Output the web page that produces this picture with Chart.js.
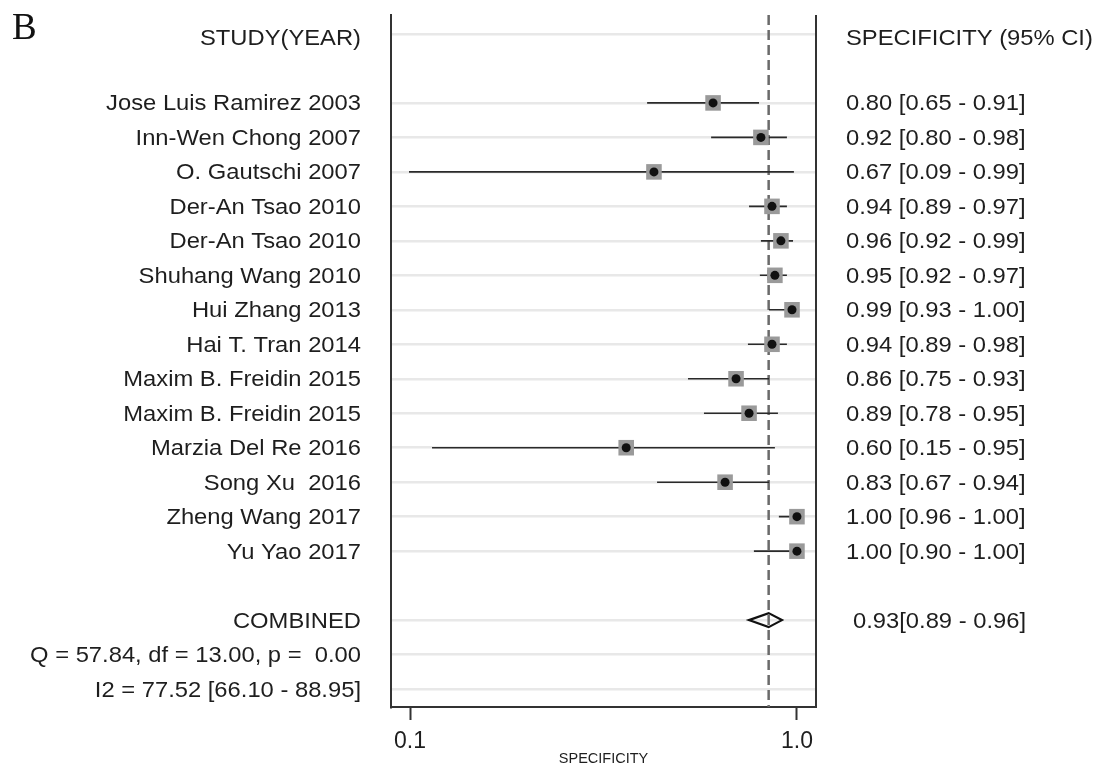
<!DOCTYPE html>
<html>
<head>
<meta charset="utf-8">
<script src="https://cdn.jsdelivr.net/npm/chart.js@4.4.1/dist/chart.umd.min.js"></script>
<style>
html, body { margin: 0; padding: 0; background: #fff; }
</style>
</head>
<body>
<canvas id="forest" width="1102" height="766"></canvas>
<script>
// study rows, top to bottom
var studies = [
    'Jose Luis Ramirez 2003', 'Inn-Wen Chong 2007', 'O. Gautschi 2007',
    'Der-An Tsao 2010', 'Der-An Tsao 2010', 'Shuhang Wang 2010',
    'Hui Zhang 2013', 'Hai T. Tran 2014', 'Maxim B. Freidin 2015',
    'Maxim B. Freidin 2015', 'Marzia Del Re 2016', 'Song Xu  2016',
    'Zheng Wang 2017', 'Yu Yao 2017'
];
var specText = [
    '0.80 [0.65 - 0.91]', '0.92 [0.80 - 0.98]', '0.67 [0.09 - 0.99]',
    '0.94 [0.89 - 0.97]', '0.96 [0.92 - 0.99]', '0.95 [0.92 - 0.97]',
    '0.99 [0.93 - 1.00]', '0.94 [0.89 - 0.98]', '0.86 [0.75 - 0.93]',
    '0.89 [0.78 - 0.95]', '0.60 [0.15 - 0.95]', '0.83 [0.67 - 0.94]',
    '1.00 [0.96 - 1.00]', '1.00 [0.90 - 1.00]'
];
// marker positions as plotted (log axis)
var pointEst = [0.607, 0.807, 0.427, 0.862, 0.909, 0.877, 0.971, 0.862, 0.696, 0.752, 0.362, 0.652, 1.0, 1.0];
var ciLow    = [0.410, 0.600, 0.0994, 0.752, 0.807, 0.802, 0.847, 0.747, 0.523, 0.575, 0.114, 0.435, 0.898, 0.774];
var ciHigh   = [0.798, 0.942, 0.982, 0.942, 0.977, 0.942, 0.988, 0.942, 0.847, 0.893, 0.877, 0.847, 1.0, 1.0];

var combinedEst = 0.845;
var combinedLow = 0.7515;
var combinedHigh = 0.9146;
var combinedText = '0.93[0.89 - 0.96]';
var statLines = ['Q = 57.84, df = 13.00, p =  0.00', 'I2 = 77.52 [66.10 - 88.95]'];

var xTicks = [0.1, 1];
var xTickLabels = ['0.1', '1.0'];

var HEADER_ROW = 0, FIRST_STUDY_ROW = 2, COMBINED_ROW = 17;
var gridRows = [HEADER_ROW];
studies.forEach(function (s, i) { gridRows.push(FIRST_STUDY_ROW + i); });
gridRows.push(COMBINED_ROW, COMBINED_ROW + 1, COMBINED_ROW + 2);

var SX = 1.08;
var FONT = '22px "Liberation Sans", Arial, sans-serif';

function stretchText(ctx, txt, x, y, align) {
    ctx.save();
    ctx.translate(x, y);
    ctx.scale(SX, 1);
    ctx.textAlign = align;
    ctx.fillText(txt, 0, 0);
    ctx.restore();
}

var whiskers = [];
studies.forEach(function (s, i) {
    var r = FIRST_STUDY_ROW + i;
    whiskers.push({x: ciLow[i], y: r}, {x: ciHigh[i], y: r}, {x: ciHigh[i], y: null});
});
var points = studies.map(function (s, i) { return {x: pointEst[i], y: FIRST_STUDY_ROW + i}; });

var forestPlugin = {
    id: 'forestExtras',
    beforeDatasetsDraw: function (chart) {
        var ctx = chart.ctx, area = chart.chartArea;
        var x = chart.scales.x.getPixelForValue(combinedEst);
        ctx.save();
        ctx.strokeStyle = '#6a6a6a';
        ctx.lineWidth = 2.5;
        ctx.setLineDash([10, 5]);
        ctx.beginPath();
        ctx.moveTo(x, area.top);
        ctx.lineTo(x, area.bottom);
        ctx.stroke();
        ctx.restore();
    },
    afterDatasetsDraw: function (chart) {
        var ctx = chart.ctx, xs = chart.scales.x, ys = chart.scales.y;
        var cy = ys.getPixelForValue(COMBINED_ROW);
        ctx.save();
        ctx.strokeStyle = '#111';
        ctx.lineWidth = 2.2;
        ctx.beginPath();
        ctx.moveTo(xs.getPixelForValue(combinedLow), cy);
        ctx.lineTo(xs.getPixelForValue(combinedEst), cy - 7);
        ctx.lineTo(xs.getPixelForValue(combinedHigh), cy);
        ctx.lineTo(xs.getPixelForValue(combinedEst), cy + 7);
        ctx.closePath();
        ctx.stroke();
        ctx.restore();
    },
    afterDraw: function (chart) {
        var ctx = chart.ctx, area = chart.chartArea, ys = chart.scales.y;
        ctx.save();
        // right frame line
        ctx.strokeStyle = '#333';
        ctx.lineWidth = 2;
        ctx.beginPath();
        ctx.moveTo(area.right, area.top);
        ctx.lineTo(area.right, area.bottom + 1);
        ctx.stroke();

        ctx.fillStyle = '#1e1e1e';
        ctx.font = FONT;
        ctx.textBaseline = 'middle';
        var leftX = 361, rightX = 846;
        var hy = ys.getPixelForValue(HEADER_ROW) + 5;
        stretchText(ctx, 'STUDY(YEAR)', leftX, hy, 'right');
        stretchText(ctx, 'SPECIFICITY (95% CI)', rightX, hy, 'left');
        studies.forEach(function (s, i) {
            var y = ys.getPixelForValue(FIRST_STUDY_ROW + i) + 1.5;
            stretchText(ctx, s, leftX, y, 'right');
            stretchText(ctx, specText[i], rightX, y, 'left');
        });
        var cy = ys.getPixelForValue(COMBINED_ROW) + 1.5;
        stretchText(ctx, 'COMBINED', leftX, cy, 'right');
        stretchText(ctx, combinedText, rightX + 7, cy, 'left');
        statLines.forEach(function (t, k) {
            stretchText(ctx, t, leftX, ys.getPixelForValue(COMBINED_ROW + 1 + k) + 1.5, 'right');
        });

        ctx.font = '37px "Liberation Serif", "Times New Roman", serif';
        ctx.textBaseline = 'alphabetic';
        ctx.textAlign = 'left';
        ctx.fillStyle = '#111';
        ctx.fillText('B', 12, 39);
        ctx.restore();
    }
};

new Chart(document.getElementById('forest'), {
    type: 'scatter',
    data: {
        datasets: [
            {
                label: 'dot',
                data: points,
                pointStyle: 'circle',
                pointRadius: 4.5,
                backgroundColor: '#111',
                borderWidth: 0,
                order: 0
            },
            {
                label: 'weight',
                data: points,
                pointStyle: 'rect',
                pointRadius: 11,
                backgroundColor: '#9a9a9a',
                borderWidth: 0,
                order: 1
            },
            {
                label: 'ci',
                data: whiskers,
                showLine: true,
                spanGaps: false,
                pointRadius: 0,
                borderColor: '#2a2a2a',
                borderWidth: 1.6,
                order: 2
            }
        ]
    },
    options: {
        responsive: false,
        devicePixelRatio: 1,
        animation: false,
        events: [],
        layout: {padding: {left: 391, right: 286, top: 15, bottom: 0}},
        plugins: {legend: {display: false}, tooltip: {enabled: false}},
        scales: {
            x: {
                type: 'logarithmic',
                min: 0.0893,
                max: 1.12,
                bounds: 'data',
                afterBuildTicks: function (scale) {
                    scale.ticks = xTicks.map(function (v) { return {value: v}; });
                },
                afterFit: function (scale) { scale.height = 59; },
                ticks: {
                    autoSkip: false,
                    maxRotation: 0,
                    padding: 8,
                    color: '#1e1e1e',
                    font: {family: '"Liberation Sans", Arial, sans-serif', size: 23},
                    callback: function (v) {
                        var k = xTicks.indexOf(v);
                        return k >= 0 ? xTickLabels[k] : '';
                    }
                },
                grid: {
                    drawOnChartArea: false,
                    drawTicks: true,
                    tickLength: 13,
                    tickColor: '#333',
                    tickWidth: 2
                },
                border: {display: true, color: '#333', width: 2},
                title: {
                    display: true,
                    text: 'SPECIFICITY',
                    color: '#1e1e1e',
                    padding: 0,
                    font: {family: '"Liberation Sans", Arial, sans-serif', size: 14.5, lineHeight: 1}
                }
            },
            y: {
                type: 'linear',
                reverse: true,
                min: -0.55,
                max: 19.52,
                afterBuildTicks: function (scale) {
                    scale.ticks = gridRows.map(function (v) { return {value: v}; });
                },
                afterFit: function (scale) { scale.width = 0; },
                ticks: {display: false},
                grid: {
                    color: '#e8e8e8',
                    lineWidth: 2.5,
                    drawTicks: false
                },
                border: {display: true, color: '#333', width: 2}
            }
        }
    },
    plugins: [forestPlugin]
});
</script>
</body>
</html>
